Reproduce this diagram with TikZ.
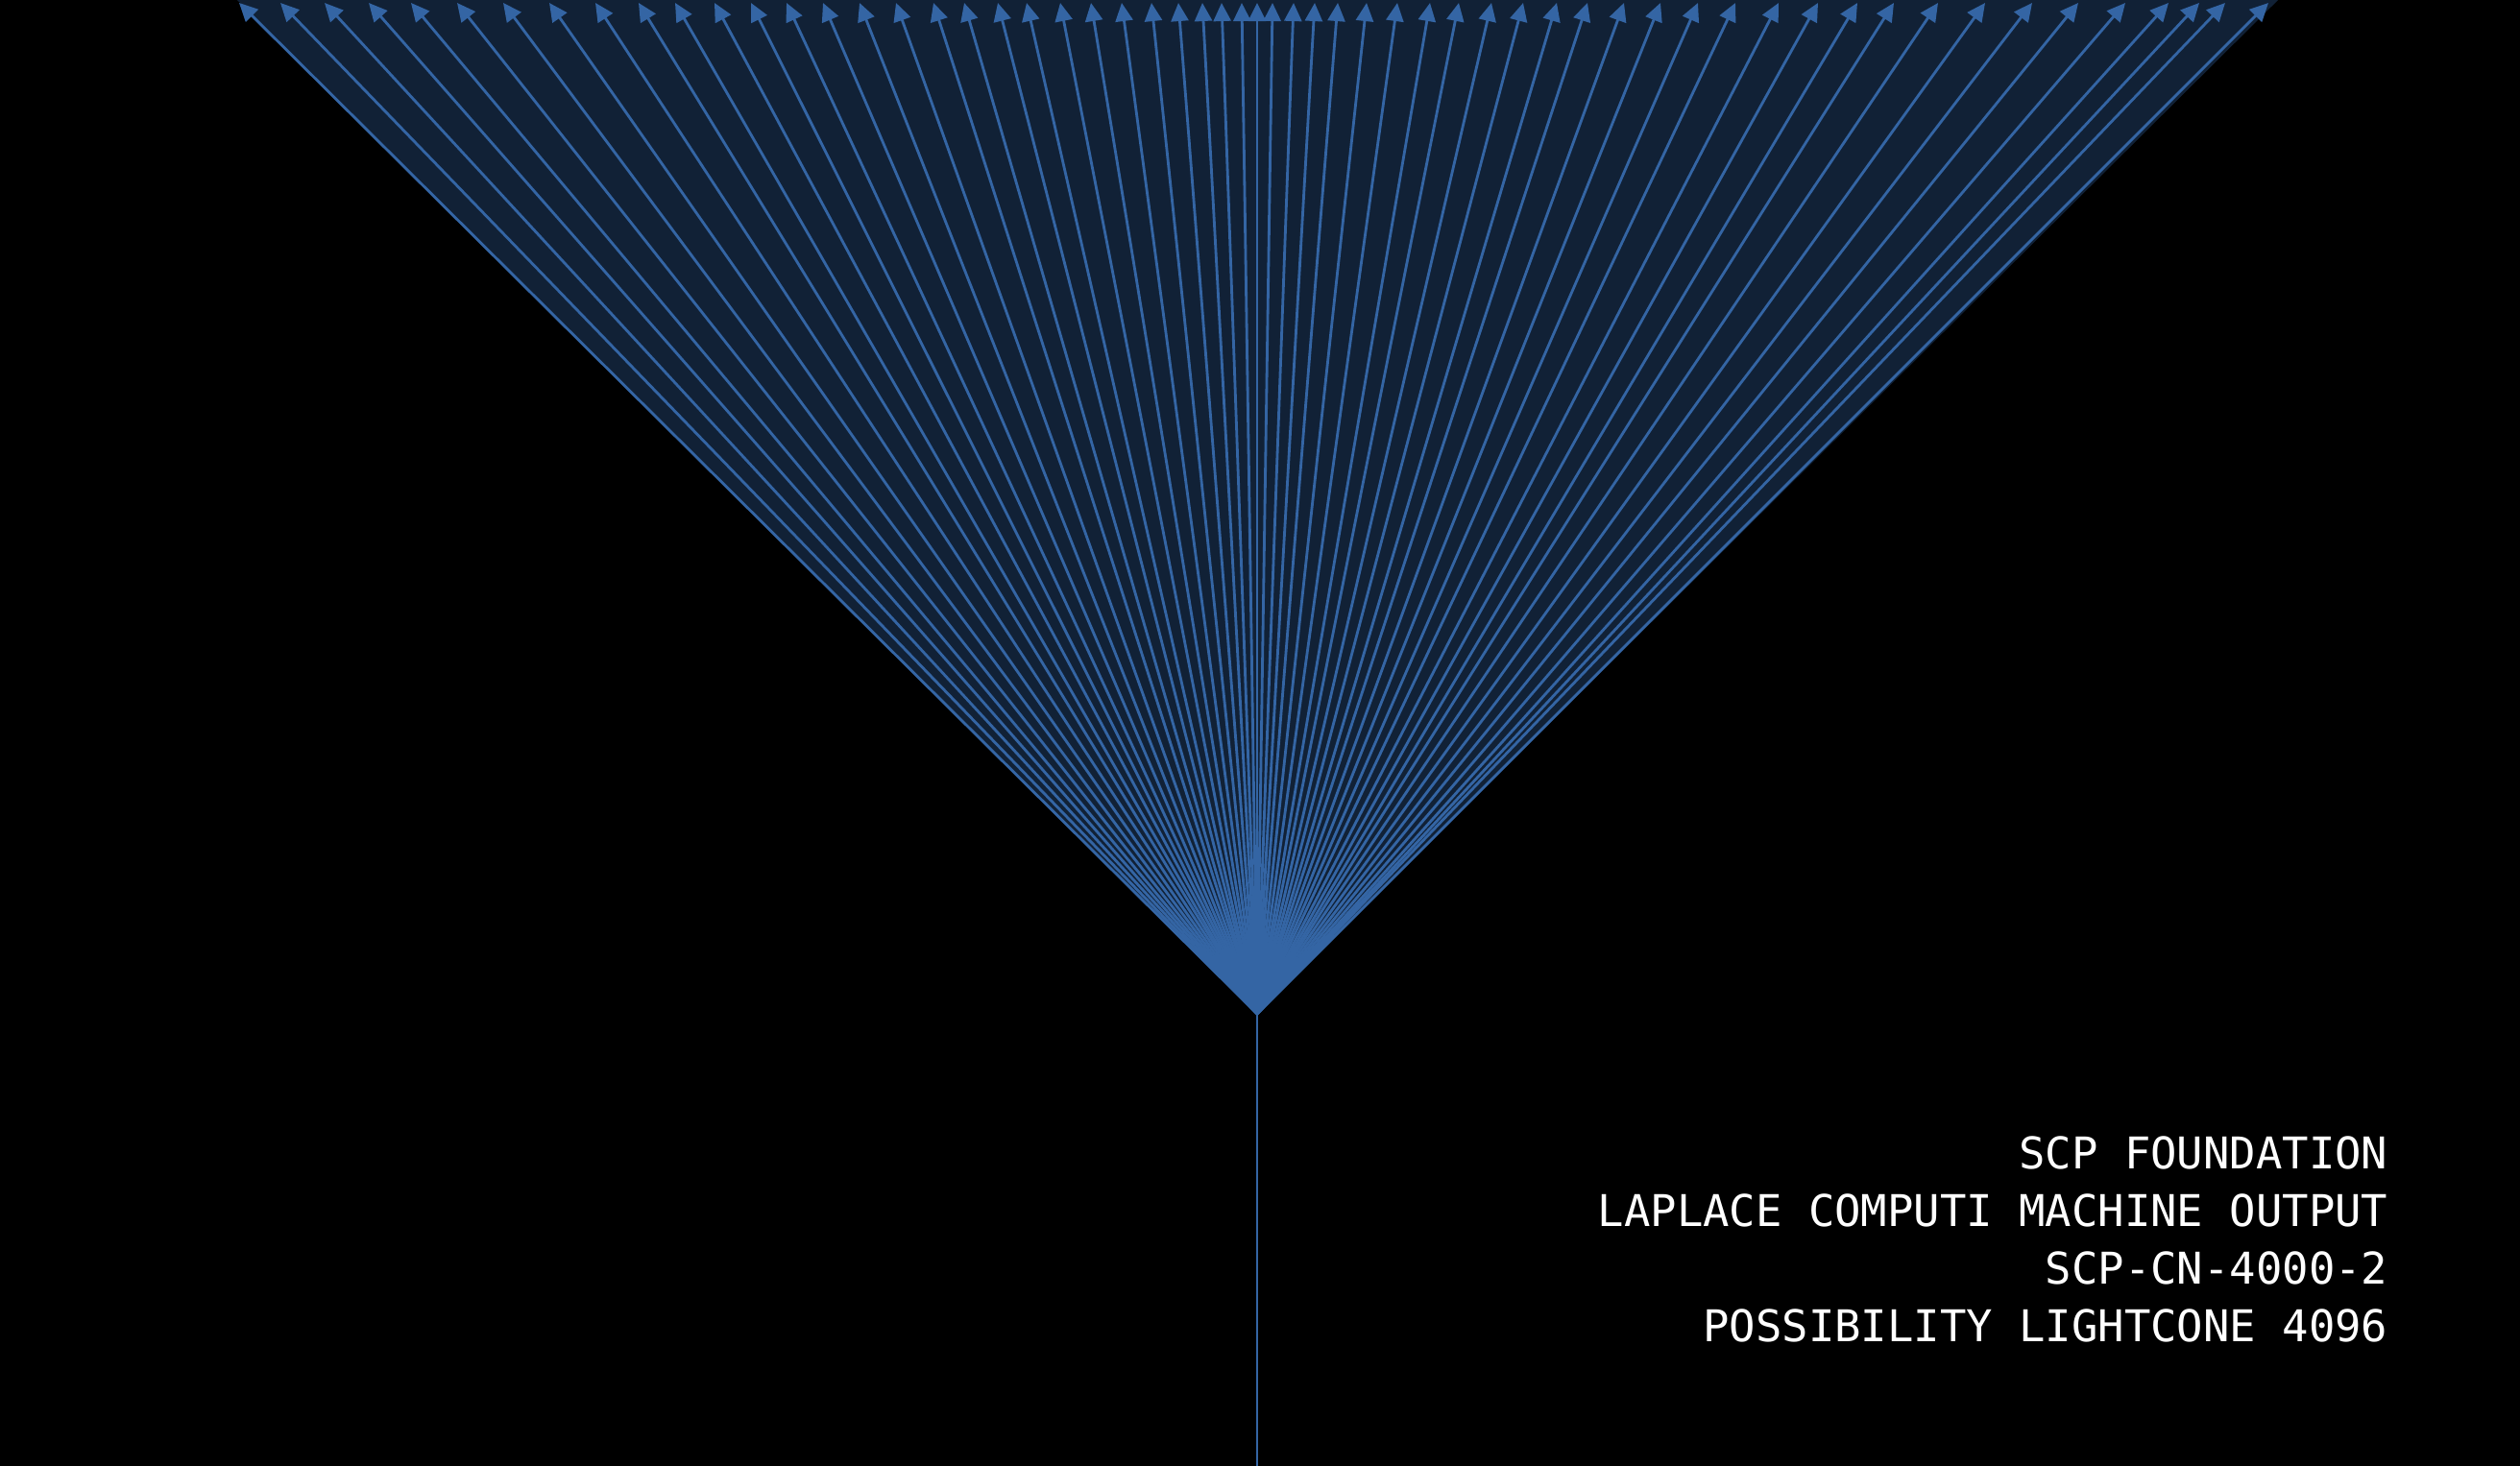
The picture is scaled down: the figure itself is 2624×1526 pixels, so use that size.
\documentclass[tikz,border=0pt]{standalone}
\usepackage{fontspec}
\setmonofont{DejaVu Sans Mono}
\usetikzlibrary{arrows.meta}
\definecolor{raycol}{HTML}{3465A4}
\definecolor{conecol}{HTML}{112136}
\begin{document}
\begin{tikzpicture}[x=0.01cm,y=-0.01cm,
  raystyle/.style={draw=raycol,line width=0.8pt,-{Triangle[length=1.9mm,width=1.8mm]}},
  stemstyle/.style={draw=raycol,line width=0.8pt},
  txtstyle/.style={font=\ttfamily\fontsize{12.95}{16}\selectfont,text=white,anchor=base east,inner sep=0pt}]
\useasboundingbox (0,0) rectangle (2624,1526);
\fill[black] (-20,-20) rectangle (2644,1546);
\coordinate (apex) at (1309,1056);
\coordinate (bottom) at (1309,1540);
\fill[conecol] (apex) -- (247,0) -- (2372,0) -- cycle;
\foreach \x [count=\i] in {249,292,338,384,428,476,524,572,620,665,703,744,782,819,857,895,933,972,1004,1039,1069,1104,1136,1168,1199,1227,1252,1272,1293,1309,1325,1347,1369,1393,1423,1455,1489,1519,1553,1586,1621,1653,1691,1729,1768,1807,1852,1893,1934,1972,2018,2067,2116,2164,2213,2258,2290,2317,2362}{
  \coordinate (t\i) at (\x,3);
  \draw[raystyle] (apex) -- (t\i);
}
\draw[stemstyle] (apex) -- (bottom);
\node[txtstyle] (l1) at (2487,1217) {SCP FOUNDATION};
\node[txtstyle] (l2) at (2487,1277) {LAPLACE COMPUTI MACHINE OUTPUT};
\node[txtstyle] (l3) at (2487,1337) {SCP-CN-4000-2};
\node[txtstyle] (l4) at (2487,1397) {POSSIBILITY LIGHTCONE 4096};
\end{tikzpicture}
\end{document}
